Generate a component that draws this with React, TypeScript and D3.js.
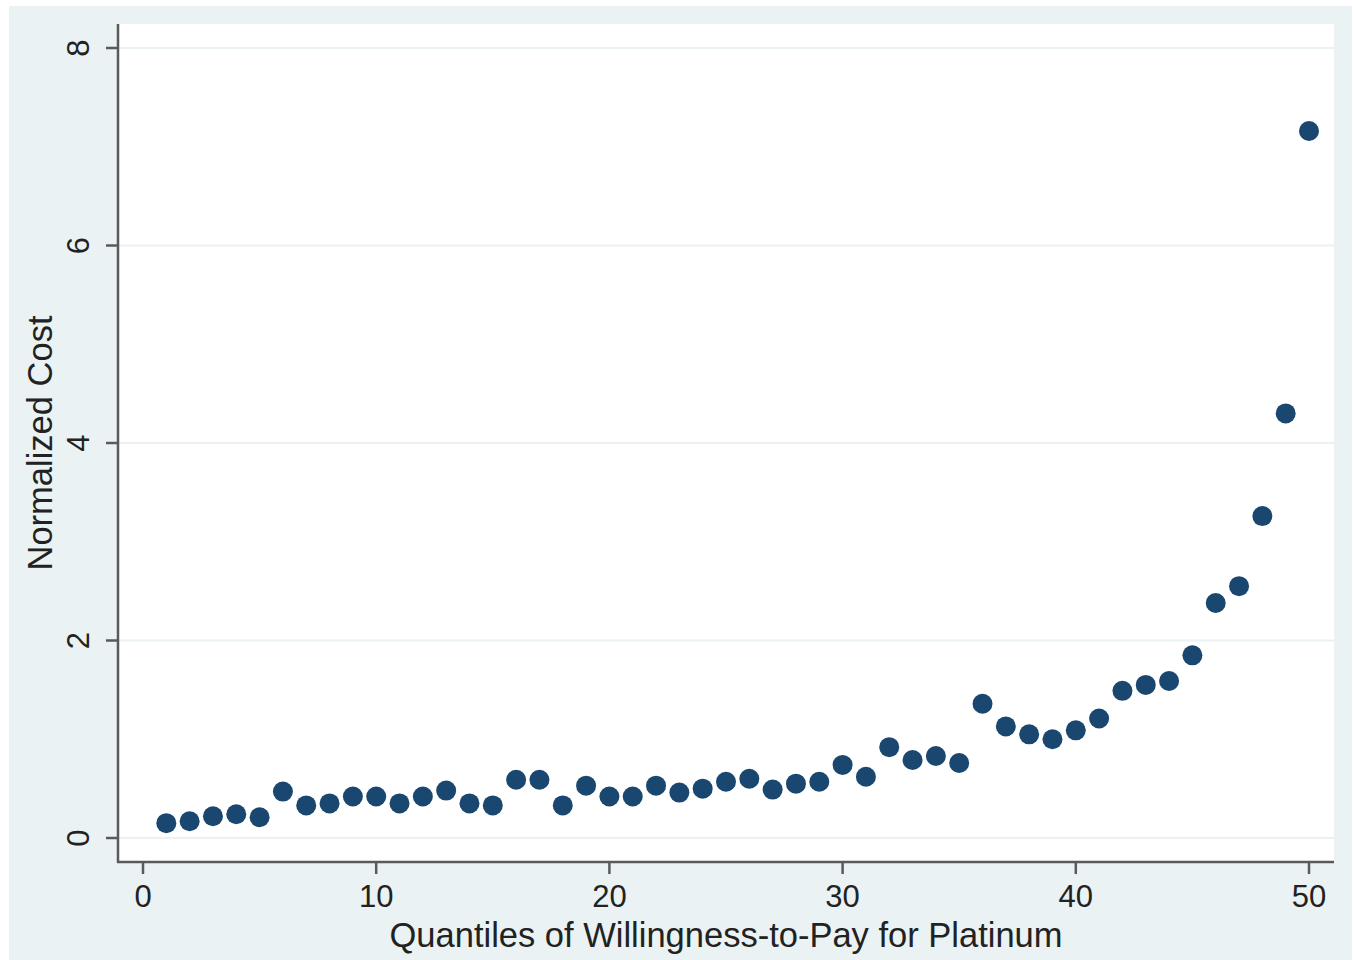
import { useEffect, useRef } from 'react';
import * as d3 from 'd3';

// quantile index 1..50
const quantiles = d3.range(1, 51);
const normalizedCost = [
  0.15, 0.17, 0.22, 0.24, 0.21, 0.47, 0.33, 0.35, 0.42, 0.42,
  0.35, 0.42, 0.48, 0.35, 0.33, 0.59, 0.59, 0.33, 0.53, 0.42,
  0.42, 0.53, 0.46, 0.5, 0.57, 0.6, 0.49, 0.55, 0.57, 0.74,
  0.62, 0.92, 0.79, 0.83, 0.76, 1.36, 1.13, 1.05, 1.0, 1.09,
  1.21, 1.49, 1.55, 1.59, 1.85, 2.38, 2.55, 3.26, 4.3, 7.16,
];
const xTicks = [0, 10, 20, 30, 40, 50];
const yTicks = [0, 2, 4, 6, 8];

const W = 1355;
const H = 960;

export default function App() {
  const svgRef = useRef<SVGSVGElement>(null);

  useEffect(() => {
    if (!svgRef.current) return;
    const svg = d3.select(svgRef.current);
    svg.selectAll('*').remove();

    const font = '"Liberation Sans", Arial, Helvetica, sans-serif';
    const bg = '#eaf2f3';
    const axisColor = '#5a5a5a';

    // graph region
    svg.append('rect').attr('x', 9).attr('y', 6).attr('width', 1343).attr('height', 954).attr('fill', bg);

    const plot = { left: 118, right: 1334, top: 24, bottom: 862 };
    svg.append('rect')
      .attr('x', plot.left).attr('y', plot.top)
      .attr('width', plot.right - plot.left).attr('height', plot.bottom - plot.top)
      .attr('fill', '#ffffff');

    const x = d3.scaleLinear().domain([0, 50]).range([143, 1309]);
    const y = d3.scaleLinear().domain([0, 8]).range([838, 48]);

    // gridlines
    svg.append('g')
      .selectAll('line')
      .data(yTicks)
      .enter()
      .append('line')
      .attr('x1', plot.left).attr('x2', plot.right)
      .attr('y1', (d) => y(d)).attr('y2', (d) => y(d))
      .attr('stroke', bg).attr('stroke-width', 2);

    // y axis
    const gy = svg.append('g');
    gy.append('line')
      .attr('x1', plot.left).attr('x2', plot.left)
      .attr('y1', plot.top).attr('y2', plot.bottom + 1)
      .attr('stroke', axisColor).attr('stroke-width', 2.5);
    gy.selectAll('.yt')
      .data(yTicks)
      .enter()
      .append('line')
      .attr('x1', plot.left - 12).attr('x2', plot.left)
      .attr('y1', (d) => y(d)).attr('y2', (d) => y(d))
      .attr('stroke', axisColor).attr('stroke-width', 2.5);
    gy.selectAll('.ylab')
      .data(yTicks)
      .enter()
      .append('text')
      .attr('transform', (d) => `translate(78,${y(d)}) rotate(-90)`)
      .attr('text-anchor', 'middle')
      .attr('dominant-baseline', 'central')
      .style('font-family', font)
      .style('font-size', '31px')
      .style('fill', '#222')
      .text((d) => d);

    svg.append('text')
      .attr('transform', `translate(40,443) rotate(-90)`)
      .attr('text-anchor', 'middle')
      .attr('dominant-baseline', 'central')
      .style('font-family', font)
      .style('font-size', '34.5px')
      .style('fill', '#222')
      .text('Normalized Cost');

    // x axis
    const gx = svg.append('g');
    gx.append('line')
      .attr('x1', plot.left - 1).attr('x2', plot.right)
      .attr('y1', plot.bottom).attr('y2', plot.bottom)
      .attr('stroke', axisColor).attr('stroke-width', 2.5);
    gx.selectAll('.xt')
      .data(xTicks)
      .enter()
      .append('line')
      .attr('x1', (d) => x(d)).attr('x2', (d) => x(d))
      .attr('y1', plot.bottom).attr('y2', plot.bottom + 12)
      .attr('stroke', axisColor).attr('stroke-width', 2.5);
    gx.selectAll('.xlab')
      .data(xTicks)
      .enter()
      .append('text')
      .attr('x', (d) => x(d))
      .attr('y', 896)
      .attr('text-anchor', 'middle')
      .attr('dominant-baseline', 'central')
      .style('font-family', font)
      .style('font-size', '31px')
      .style('fill', '#222')
      .text((d) => d);

    svg.append('text')
      .attr('x', 726)
      .attr('y', 935)
      .attr('text-anchor', 'middle')
      .attr('dominant-baseline', 'central')
      .style('font-family', font)
      .style('font-size', '34.5px')
      .style('fill', '#222')
      .text('Quantiles of Willingness-to-Pay for Platinum');

    // markers
    svg.append('g')
      .selectAll('circle')
      .data(quantiles)
      .enter()
      .append('circle')
      .attr('cx', (d) => x(d))
      .attr('cy', (d, i) => y(normalizedCost[i]))
      .attr('r', 10)
      .attr('fill', '#1a476f');
  }, []);

  return (
    <div style={{ position: 'absolute', left: 0, top: 0 }}>
      <svg ref={svgRef} width={W} height={H} style={{ display: 'block', background: '#fff' }} />
    </div>
  );
}
